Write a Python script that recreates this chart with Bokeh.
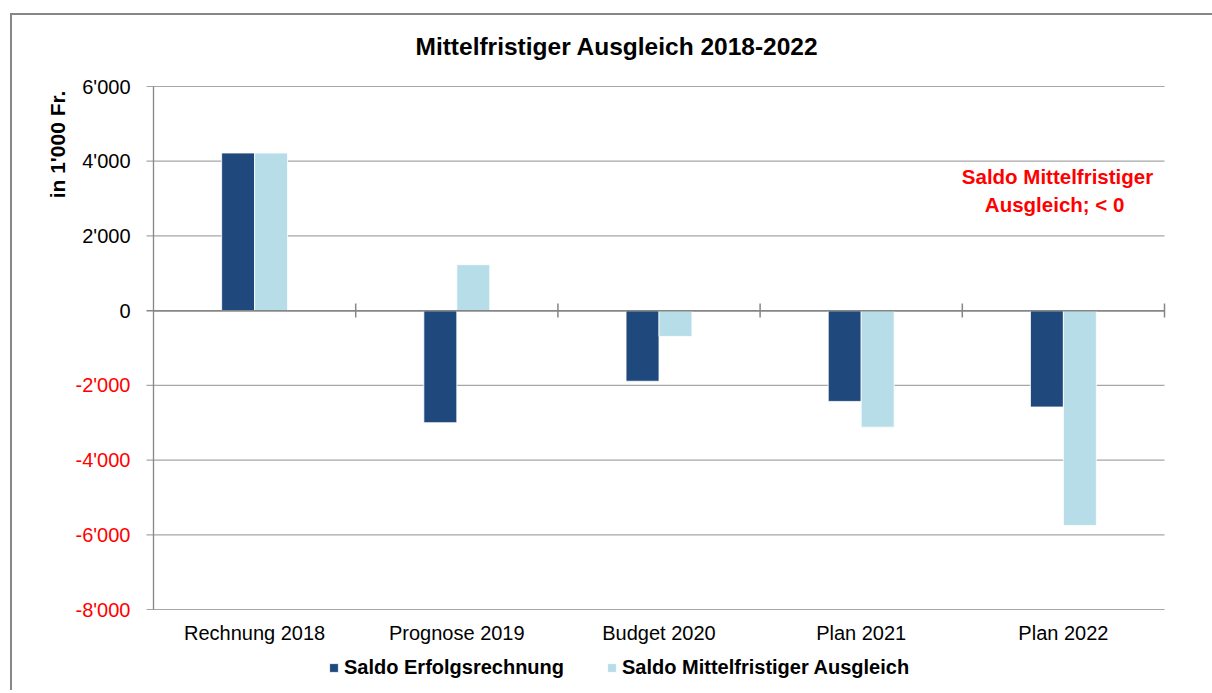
import numpy as np
from bokeh.plotting import figure
from bokeh.core.properties import value
from bokeh.models import (ColumnDataSource, Range1d, Label, LabelSet,
                          Legend, LegendItem)
from bokeh.transform import dodge
from bokeh.embed import file_html
from bokeh.resources import INLINE

# ---------------- data ----------------
categories = ["Rechnung 2018", "Prognose 2019", "Budget 2020", "Plan 2021", "Plan 2022"]
saldo_erfolg = [4220, -3000, -1890, -2430, -2580]
saldo_mittel = [4220, 1230, -690, -3120, -5750]
series_names = ["Saldo Erfolgsrechnung", "Saldo Mittelfristiger Ausgleich"]
y_ticks = [-8000, -6000, -4000, -2000, 0, 2000, 4000, 6000]
y_tick_labels = ["-8'000", "-6'000", "-4'000", "-2'000", "0", "2'000", "4'000", "6'000"]
title_text = "Mittelfristiger Ausgleich 2018-2022"
y_label_text = "in 1'000 Fr."
note_text = "Saldo Mittelfristiger\nAusgleich;  < 0"

DARK = "#1F497D"
LIGHT = "#B7DEE8"
GRID = "#A6A6A6"
AXIS = "#868686"
FONT = "Liberation Sans"

# ---------------- layout (window px) ----------------
PL, PT, PR, PB = 153, 86, 1164, 609   # plot area edges (window px)
OX, OY = 12, 15                       # canvas origin (window px)
CW, CH = 1200, 675                    # canvas size
NX = len(categories)
Y0, Y1 = y_ticks[0], y_ticks[-1]

def wx(px):
    return (px - PL) / (PR - PL) * NX

def wy(py):
    return Y1 - (py - PT) / (PB - PT) * (Y1 - Y0)

p = figure(frame_width=CW, frame_height=CH,
           x_range=Range1d(wx(OX), wx(OX + CW)), y_range=Range1d(wy(OY + CH), wy(OY)),
           output_backend="svg", toolbar_location=None,
           min_border_left=0, min_border_right=0, min_border_top=0,
           min_border_bottom=0)
p.styles = {"border-left": "2px solid #878787", "border-top": "2px solid #878787",
            "margin-left": "10px", "margin-top": "13px"}
p.outline_line_color = None
p.background_fill_color = "white"
p.border_fill_color = "white"
p.xgrid.grid_line_color = None
p.ygrid.grid_line_color = None
p.xaxis.visible = False
p.yaxis.visible = False

# horizontal gridlines (with outer tick marks) and value axis line
gx0 = wx(PL - 7)
grid_src = ColumnDataSource(dict(y=y_ticks, x0=[gx0] * len(y_ticks), x1=[NX] * len(y_ticks),
                                 color=[AXIS if v == 0 else GRID for v in y_ticks],
                                 w=[1.5 if v == 0 else 1.2 for v in y_ticks]))
p.segment(x0="x0", y0="y", x1="x1", y1="y", source=grid_src,
          line_color="color", line_width="w")
p.segment(x0=[0], y0=[Y0], x1=[0], y1=[Y1], line_color=AXIS, line_width=1.3)

# bars
x_centers = list(np.arange(NX) + 0.5)
src = ColumnDataSource(dict(x=x_centers, cat=categories,
                            erfolg=saldo_erfolg, mittel=saldo_mittel))
BW = 0.163
r1 = p.vbar(x=dodge("x", -BW / 2, range=p.x_range), top="erfolg", bottom=0, width=BW,
            source=src, fill_color=DARK, line_color="white", line_width=0.8)
r2 = p.vbar(x=dodge("x", BW / 2, range=p.x_range), top="mittel", bottom=0, width=BW,
            source=src, fill_color=LIGHT, line_color="white", line_width=0.8)

# zero line redrawn over bars, with category separators
p.segment(x0=[0], y0=[0], x1=[NX], y1=[0], line_color=AXIS, line_width=1.5)
sep_x = list(np.arange(1, NX + 1))
p.segment(x0=sep_x, y0=wy(317), x1=sep_x, y1=wy(303), line_color=AXIS, line_width=1.5)

# category labels under the plot area
p.add_layout(LabelSet(x="x", y=Y0, text="cat", source=src, y_offset=-(632 - PB),
                      text_align="center", text_baseline="middle",
                      text_color="black", text_font=value(FONT),
                      text_font_size="20px"))

# y tick labels (negative values in red)
ysrc = ColumnDataSource(dict(y=y_ticks, text=y_tick_labels,
                             color=["red" if v < 0 else "black" for v in y_ticks]))
p.add_layout(LabelSet(x=0, y="y", text="text", source=ysrc, x_offset=-23,
                      text_align="right", text_baseline="middle",
                      text_color="color", text_font=value(FONT),
                      text_font_size="20px"))

# title
p.add_layout(Label(x=wx(616.5), y=wy(46), text=title_text, text_align="center",
                   text_baseline="middle", text_font=FONT, text_font_size="24.5px",
                   text_font_style="bold", text_color="black"))
# value axis label
p.add_layout(Label(x=wx(57), y=wy(144), text=y_label_text, angle=np.pi / 2,
                   text_align="center", text_baseline="middle", text_font=FONT,
                   text_font_size="21px", text_font_style="bold", text_color="black"))
# red note
p.add_layout(Label(x=wx(1057), y=wy(190), text=note_text, text_align="center",
                   text_baseline="middle", text_font=FONT, text_font_size="20.5px",
                   text_font_style="bold", text_color="red", text_line_height=1.2))

# legend below the category labels
legend = Legend(items=[LegendItem(label=series_names[0], renderers=[r1]),
                       LegendItem(label=series_names[1], renderers=[r2])],
                orientation="horizontal", location=(328 - OX, OY + CH - 679),
                glyph_width=11, glyph_height=11, label_standoff=5, spacing=42,
                padding=0, margin=0, border_line_color=None,
                background_fill_alpha=0,
                label_text_font=FONT, label_text_font_size="20px",
                label_text_font_style="bold", label_text_color="black")
p.add_layout(legend, "center")

open("out.html", "w").write(file_html(p, INLINE))
